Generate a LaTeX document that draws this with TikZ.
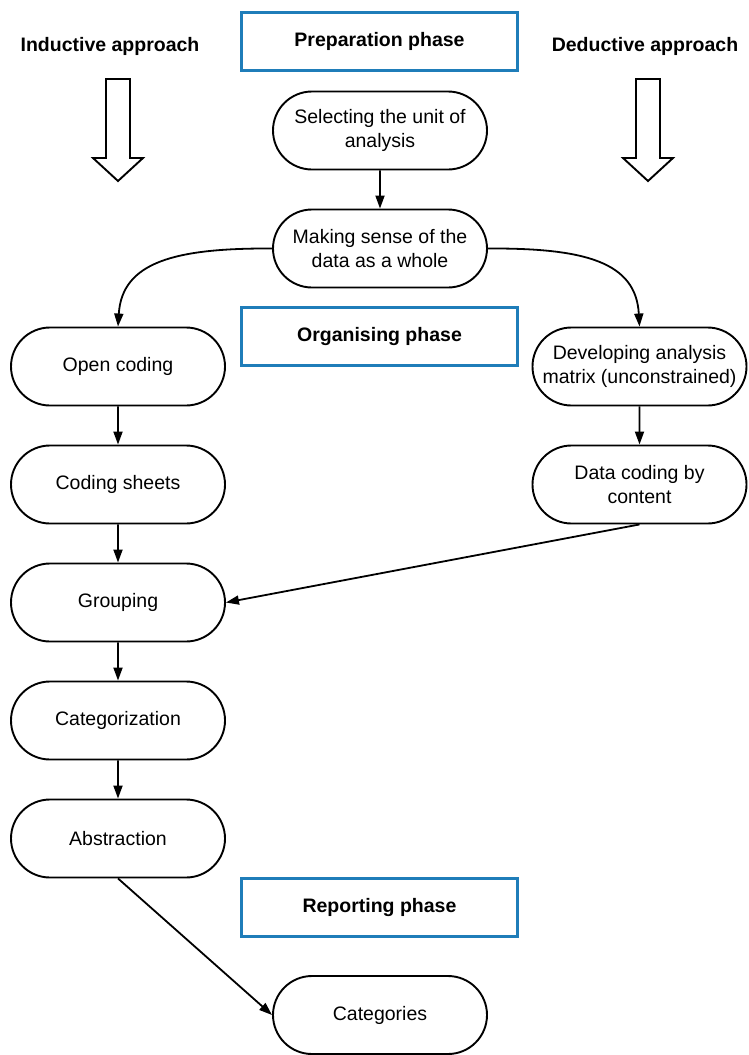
\documentclass[tikz,border=0pt]{standalone}
\usepackage{fontspec}
\setmainfont{Liberation Sans}
\usetikzlibrary{shapes.misc,arrows.meta}
\definecolor{phaseblue}{RGB}{31,125,185}
\begin{document}
\begin{tikzpicture}[x=1pt,y=-1pt,
  stadium/.style={rounded rectangle, draw=black, line width=1.9pt, minimum width=218pt, minimum height=78pt, align=center, font=\fontsize{19.5}{24}\selectfont, inner sep=2pt},
  phasebox/.style={draw=phaseblue, line width=2.8pt, minimum width=276pt, minimum height=58pt, font=\bfseries\fontsize{19.5}{24}\selectfont},
  approach/.style={font=\bfseries\fontsize{19.5}{24}\selectfont},
  conn/.style={line width=1.8pt, -{Triangle[length=13pt,width=9pt]}},
  hollow/.style={draw=black, line width=1.9pt, fill=white, line join=miter}
]
\useasboundingbox (0,0) rectangle (749,1055);

% phase boxes
\node[phasebox] (prep) at (379.5,41.5) {Preparation phase};
\node[phasebox] (org) at (379.5,336.5) {Organising phase};
\node[phasebox] (rep) at (379.5,907.5) {Reporting phase};

% approach labels
\node[approach] (ind) at (110,46) {Inductive approach};
\node[approach] (ded) at (645,46) {Deductive approach};

% hollow arrows
\draw[hollow] (106,79) -- (130,79) -- (130,158) -- (143,158) -- (118,181) -- (93,158) -- (106,158) -- cycle;
\draw[hollow] (636,79) -- (660,79) -- (660,158) -- (673,158) -- (648,181) -- (623,158) -- (636,158) -- cycle;

% nodes
\node[stadium] (sel) at (380,130.5) {Selecting the unit of\\analysis};
\node[stadium] (ms) at (380,248.5) {Making sense of the\\data as a whole};
\node[stadium] (oc) at (118,366.5) {Open coding};
\node[stadium] (dev) at (639.5,366.5) {Developing analysis\\matrix (unconstrained)};
\node[stadium] (cs) at (118,484.5) {Coding sheets};
\node[stadium] (dc) at (639.5,484.5) {Data coding by\\content};
\node[stadium] (grp) at (118,602.5) {Grouping};
\node[stadium] (cat) at (118,720.5) {Categorization};
\node[stadium] (abs) at (118,838.5) {Abstraction};
\node[stadium] (cats) at (380,1015) {Categories};

% connectors
\draw[conn] (sel) -- (ms);
\draw[conn] (ms.west) .. controls (175,248) and (122,262) .. (oc.north);
\draw[conn] (ms.east) .. controls (585,248) and (636,262) .. (dev.north);
\draw[conn] (oc) -- (cs);
\draw[conn] (cs) -- (grp);
\draw[conn] (dev) -- (dc);
\draw[conn] (dc.south) -- (grp.east);
\draw[conn] (grp) -- (cat);
\draw[conn] (cat) -- (abs);
\draw[conn] (abs.south) -- (cats.west);
\end{tikzpicture}
\end{document}
